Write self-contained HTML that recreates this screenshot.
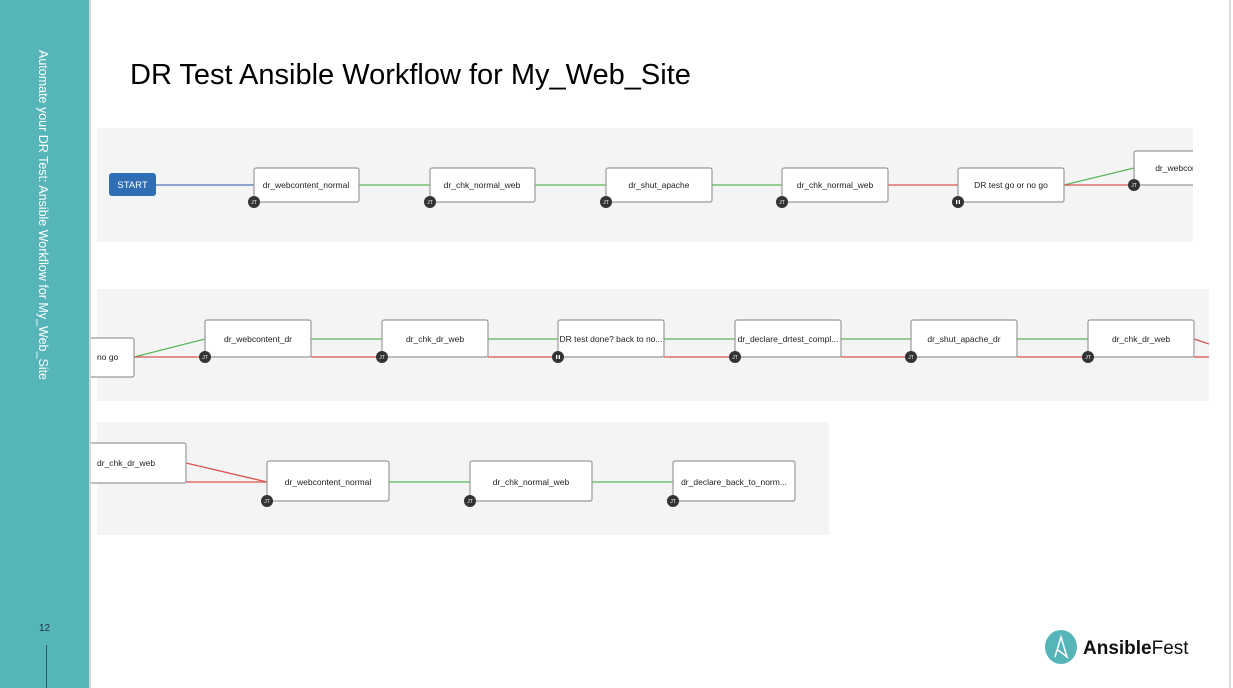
<!DOCTYPE html>
<html><head><style>
body{margin:0;width:1233px;height:688px;overflow:hidden;background:#fff;font-family:"Liberation Sans",sans-serif;position:relative}
.side{position:absolute;left:0;top:0;width:89px;height:688px;background:#56b5b8;border-right:2px solid #cfd8d8;z-index:5}
.vt{position:absolute;left:36px;top:50px;transform-origin:0 0;transform:translate(14px,0) rotate(90deg);color:#fff;font-size:12.5px;white-space:nowrap}
</style></head><body>
<div class="side"><div class="vt">Automate your DR Test: Ansible Workflow for My_Web_Site</div>
<div style="position:absolute;left:39px;top:623px;font-size:10px;color:#234">12</div>
<div style="position:absolute;left:46px;top:645px;width:1px;height:43px;background:#2d5a6a"></div></div>
<div style="position:absolute;left:1229px;top:0;width:2px;height:688px;background:#ddd"></div>
<div style="position:absolute;left:130px;top:59px;font-size:29px;color:#000">DR Test Ansible Workflow for My_Web_Site</div>
<svg width="1233" height="688" style="position:absolute;left:0;top:0" font-family="Liberation Sans,sans-serif" font-size="8.5">
<rect x="97" y="128" width="1096" height="114" fill="#f4f4f4"/>
<rect x="97" y="289" width="1112" height="112" fill="#f4f4f4"/>
<rect x="97" y="422" width="732" height="113" fill="#f4f4f4"/>
<g stroke-width="1.3">
<line x1="156" y1="185" x2="254" y2="185" stroke="#4a74b8"/>
<line x1="359" y1="185" x2="430" y2="185" stroke="#5cb85c"/>
<line x1="535" y1="185" x2="606" y2="185" stroke="#5cb85c"/>
<line x1="712" y1="185" x2="782" y2="185" stroke="#5cb85c"/>
<line x1="888" y1="185" x2="958" y2="185" stroke="#d9534f"/>
<line x1="1064" y1="185" x2="1134" y2="168" stroke="#5cb85c"/>
<line x1="1064" y1="185" x2="1134" y2="185" stroke="#d9534f"/>
<line x1="134" y1="357" x2="205" y2="339" stroke="#5cb85c"/>
<line x1="134" y1="357" x2="205" y2="357" stroke="#d9534f"/>
<g stroke="#5cb85c"><line x1="311" y1="339" x2="382" y2="339"/><line x1="488" y1="339" x2="558" y2="339"/><line x1="664" y1="339" x2="735" y2="339"/><line x1="841" y1="339" x2="911" y2="339"/><line x1="1017" y1="339" x2="1088" y2="339"/></g>
<g stroke="#d9534f"><line x1="311" y1="357" x2="382" y2="357"/><line x1="488" y1="357" x2="558" y2="357"/><line x1="664" y1="357" x2="735" y2="357"/><line x1="841" y1="357" x2="911" y2="357"/><line x1="1017" y1="357" x2="1088" y2="357"/><line x1="1194" y1="339" x2="1209" y2="344"/><line x1="1194" y1="357" x2="1209" y2="357"/>
<line x1="186" y1="463" x2="267" y2="482"/><line x1="186" y1="482" x2="267" y2="482"/></g>
<g stroke="#5cb85c"><line x1="389" y1="482" x2="470" y2="482"/><line x1="592" y1="482" x2="673" y2="482"/></g>
</g>
<rect x="109" y="173" width="47" height="23" rx="3" fill="#2f6db5"/>
<text x="132.5" y="188" text-anchor="middle" fill="#fff" font-size="9.5">START</text>
<g fill="#fff" stroke="#999" stroke-width="1.2">
<rect x="254" y="168" width="105" height="34" rx="2"/><rect x="430" y="168" width="105" height="34" rx="2"/><rect x="606" y="168" width="106" height="34" rx="2"/><rect x="782" y="168" width="106" height="34" rx="2"/><rect x="958" y="168" width="106" height="34" rx="2"/><rect x="1134" y="151" width="70" height="34" rx="2"/>
<rect x="60" y="338" width="74" height="39" rx="2"/>
<rect x="205" y="320" width="106" height="37" rx="2"/><rect x="382" y="320" width="106" height="37" rx="2"/><rect x="558" y="320" width="106" height="37" rx="2"/><rect x="735" y="320" width="106" height="37" rx="2"/><rect x="911" y="320" width="106" height="37" rx="2"/><rect x="1088" y="320" width="106" height="37" rx="2"/>
<rect x="60" y="443" width="126" height="40" rx="2"/>
<rect x="267" y="461" width="122" height="40" rx="2"/><rect x="470" y="461" width="122" height="40" rx="2"/><rect x="673" y="461" width="122" height="40" rx="2"/>
</g>
<g fill="#222" text-anchor="middle">
<text x="306" y="188">dr_webcontent_normal</text><text x="482" y="188">dr_chk_normal_web</text><text x="659" y="188">dr_shut_apache</text><text x="835" y="188">dr_chk_normal_web</text><text x="1011" y="188">DR test go or no go</text><text x="1176" y="171">dr_webcon</text>
<text x="258" y="342">dr_webcontent_dr</text><text x="435" y="342">dr_chk_dr_web</text><text x="611" y="342">DR test done? back to no...</text><text x="788" y="342">dr_declare_drtest_compl...</text><text x="964" y="342">dr_shut_apache_dr</text><text x="1141" y="342">dr_chk_dr_web</text>
<text x="328" y="485">dr_webcontent_normal</text><text x="531" y="485">dr_chk_normal_web</text><text x="734" y="485">dr_declare_back_to_norm...</text>
<text x="97" y="360" text-anchor="start">no go</text><text x="97" y="466" text-anchor="start">dr_chk_dr_web</text>
</g>
<rect x="1193" y="140" width="36" height="100" fill="#fff"/>
<g fill="#333">
<circle cx="254" cy="202" r="6"/><circle cx="430" cy="202" r="6"/><circle cx="606" cy="202" r="6"/><circle cx="782" cy="202" r="6"/><circle cx="958" cy="202" r="6"/><circle cx="1134" cy="185" r="6"/>
<circle cx="205" cy="357" r="6"/><circle cx="382" cy="357" r="6"/><circle cx="558" cy="357" r="6"/><circle cx="735" cy="357" r="6"/><circle cx="911" cy="357" r="6"/><circle cx="1088" cy="357" r="6"/>
<circle cx="267" cy="501" r="6"/><circle cx="470" cy="501" r="6"/><circle cx="673" cy="501" r="6"/>
</g>
<g fill="#fff" font-size="5" text-anchor="middle">
<text x="254" y="204">JT</text><text x="430" y="204">JT</text><text x="606" y="204">JT</text><text x="782" y="204">JT</text><text x="1134" y="187">JT</text>
<text x="205" y="359">JT</text><text x="382" y="359">JT</text><text x="735" y="359">JT</text><text x="911" y="359">JT</text><text x="1088" y="359">JT</text>
<text x="267" y="503">JT</text><text x="470" y="503">JT</text><text x="673" y="503">JT</text>
<rect x="956" y="200" width="1.3" height="4"/><rect x="958.7" y="200" width="1.3" height="4"/>
<rect x="556" y="355" width="1.3" height="4"/><rect x="558.7" y="355" width="1.3" height="4"/>
</g>
<ellipse cx="1061" cy="647" rx="16" ry="17" fill="#56b5b8"/>
<path d="M1055 657 L1061 637 L1067 657 L1058 650" stroke="#fff" stroke-width="1.5" fill="none"/>
<text x="1083" y="654" font-size="19" fill="#111"><tspan font-weight="bold">Ansible</tspan>Fest</text>
</svg>
</body></html>
